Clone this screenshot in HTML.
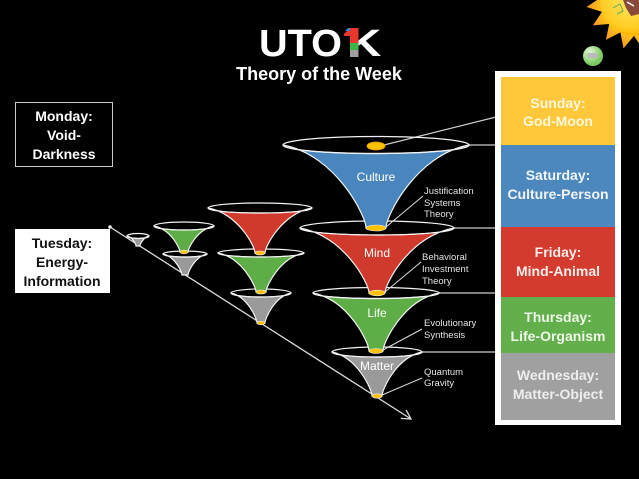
<!DOCTYPE html>
<html><head><meta charset="utf-8"><style>
html,body{margin:0;padding:0;background:#000;}
svg{display:block;}
text{font-family:"Liberation Sans",sans-serif;}
</style></head><body>
<svg width="639" height="479" viewBox="0 0 639 479" xmlns="http://www.w3.org/2000/svg">
<defs>
<radialGradient id="sunG" cx="636" cy="0" r="50" gradientUnits="userSpaceOnUse">
<stop offset="0.6" stop-color="#FFD21F"/><stop offset="1" stop-color="#F7931E"/></radialGradient>
<radialGradient id="sunB" cx="630" cy="0" r="36" gradientUnits="userSpaceOnUse">
<stop offset="0" stop-color="#FFE866"/><stop offset="0.8" stop-color="#FFCC22"/><stop offset="1" stop-color="#FFB000"/></radialGradient>
<radialGradient id="ball" cx="590" cy="52" r="12" gradientUnits="userSpaceOnUse">
<stop offset="0" stop-color="#E4F8D8"/><stop offset="1" stop-color="#7CC860"/></radialGradient>
<marker id="arr" markerWidth="12" markerHeight="12" refX="10" refY="6" orient="auto" markerUnits="userSpaceOnUse">
<path d="M1,1 L10,6 L1,11" fill="none" stroke="#ddd" stroke-width="1.3"/></marker>
</defs>
<rect width="639" height="479" fill="#000"/>

<!-- sun -->
<polygon points="600.1,-2 586.5,7 602,11.9 592.9,25.4 609.2,24 605.9,39.9 620.4,32.4 623.5,48.4 634,35.9 643,49.5 647.9,34 660,0 660,-10 600,-10" fill="url(#sunG)"/>
<circle cx="636" cy="0" r="36" fill="url(#sunB)"/>
<path d="M623,0 L639,0 L639,14 L631,16 L626,8 Z" fill="#8a4a3a"/>
<path d="M613,8 L620,4 L623,11 L617,14" fill="none" stroke="#6aa84f" stroke-width="1"/>
<path d="M627,2 L634,6" stroke="#fff" stroke-width="1.5"/>
<circle cx="593" cy="56" r="10" fill="url(#ball)"/>
<rect x="587" y="53" width="11" height="5" rx="2" fill="#bbb"/>

<!-- logo -->
<text x="259" y="56" font-size="38" font-weight="bold" fill="#fff" textLength="83" lengthAdjust="spacingAndGlyphs">UTO</text>
<text transform="translate(347,56) scale(1.25,1)" x="0" y="0" font-size="38" font-weight="bold" fill="#fff">K</text>
<rect x="350" y="28" width="8.5" height="15" fill="#E8382E"/>
<polygon points="344,34 350,28 352,28 352,36 344,36" fill="#E8382E"/>
<polygon points="345,31 348,28 350,28 350,31" fill="#3A7FD0"/>
<rect x="350" y="43" width="8.5" height="7" fill="#3DB54A"/>
<rect x="350" y="50" width="8.5" height="7" fill="#A0A0A0"/>
<text x="319" y="80" font-size="18" font-weight="bold" fill="#fff" text-anchor="middle">Theory of the Week</text>

<!-- left boxes -->
<rect x="15.5" y="102.5" width="97" height="64" fill="#000" stroke="#ccc" stroke-width="1"/>
<g font-size="14" font-weight="bold" fill="#fff" text-anchor="middle">
<text x="64" y="121">Monday:</text><text x="64" y="140">Void-</text><text x="64" y="159">Darkness</text>
</g>
<rect x="15" y="229" width="95" height="64" fill="#fff"/>
<g font-size="14" font-weight="bold" fill="#111" text-anchor="middle">
<text x="62" y="248">Tuesday:</text><text x="62" y="267">Energy-</text><text x="62" y="286">Information</text>
</g>

<!-- diagonal arrow -->
<circle cx="110" cy="227" r="1.8" fill="#eee"/>
<line x1="110" y1="227" x2="411" y2="419" stroke="#ddd" stroke-width="1.3" marker-end="url(#arr)"/>

<!-- connectors to right box -->
<g stroke="#ccc" stroke-width="1.2">
<line x1="384" y1="145" x2="496" y2="117"/>
<line x1="469" y1="145" x2="496" y2="145"/>
<line x1="454" y1="228" x2="496" y2="228"/>
<line x1="439" y1="293" x2="496" y2="293"/>
<line x1="422" y1="352" x2="496" y2="352"/>
</g>

<!-- funnels (draw lower first) -->
<g stroke="#f2f2f2" stroke-width="1.2">
<path d="M149,236 C143.2,237.2 140,244.6 140,246 L136,246 C136,244.6 132.8,237.2 127,236 A11 2.5 0 0 0 149,236 Z" fill="#9A9A9A"/>
<ellipse cx="138" cy="236" rx="11" ry="2.5" fill="none"/>
<path d="M207,254 C194.8,256.5 188,272.1 188,275 L182,275 C182,272.1 175.2,256.5 163,254 A22 3 0 0 0 207,254 Z" fill="#9A9A9A"/>
<ellipse cx="185" cy="254" rx="22" ry="3" fill="none"/>
<path d="M214,226 C197.4,229.1 188,248.4 188,252 L180,252 C180,248.4 170.6,229.1 154,226 A30 4 0 0 0 214,226 Z" fill="#5FAD47"/>
<ellipse cx="184" cy="226" rx="30" ry="4" fill="none"/>
<ellipse cx="184" cy="252" rx="4" ry="1.8" fill="#FFC000" stroke-width="0.6"/>
<path d="M291,293 C274.4,296.6 265,318.8 265,323 L257,323 C257,318.8 247.6,296.6 231,293 A30 4 0 0 0 291,293 Z" fill="#9A9A9A"/>
<ellipse cx="261" cy="293" rx="30" ry="4" fill="none"/>
<ellipse cx="261" cy="323" rx="4" ry="1.8" fill="#FFC000" stroke-width="0.6"/>
<path d="M304,253 C279.7,257.7 266,286.5 266,292 L256,292 C256,286.5 242.3,257.7 218,253 A43 4 0 0 0 304,253 Z" fill="#5FAD47"/>
<ellipse cx="261" cy="253" rx="43" ry="4" fill="none"/>
<ellipse cx="261" cy="292" rx="5" ry="2" fill="#FFC000" stroke-width="0.6"/>
<path d="M312,208 C281.9,213.4 265,246.7 265,253 L255,253 C255,246.7 238.1,213.4 208,208 A52 5 0 0 0 312,208 Z" fill="#D03A2C"/>
<ellipse cx="260" cy="208" rx="52" ry="5" fill="none"/>
<ellipse cx="260" cy="253" rx="5" ry="2" fill="#FFC000" stroke-width="0.6"/>

<path d="M422,352 C396.4,357.3 382,389.8 382,396 L372,396 C372,389.8 357.6,357.3 332,352 A45 5 0 0 0 422,352 Z" fill="#9A9A9A"/>
<ellipse cx="377" cy="352" rx="45" ry="5" fill="none"/>
<ellipse cx="377" cy="396" rx="5" ry="2.2" fill="#FFC000" stroke-width="0.6"/>
<path d="M439,293 C403.2,300 383,342.9 383,351 L369,351 C369,342.9 348.8,300 313,293 A63 5.5 0 0 0 439,293 Z" fill="#5FAD47"/>
<ellipse cx="376" cy="293" rx="63" ry="5.5" fill="none"/>
<ellipse cx="376" cy="351" rx="7" ry="2.5" fill="#FFC000" stroke-width="0.6"/>
<path d="M454,228 C409.8,235.8 385,283.9 385,293 L369,293 C369,283.9 344.2,235.8 300,228 A77 7 0 0 0 454,228 Z" fill="#D03A2C"/>
<ellipse cx="377" cy="228" rx="77" ry="7" fill="none"/>
<ellipse cx="377" cy="293" rx="8" ry="2.8" fill="#FFC000" stroke-width="0.6"/>
<path d="M469,145 C415.9,155 386,216.4 386,228 L366,228 C366,216.4 336.1,155 283,145 A93 8.5 0 0 0 469,145 Z" fill="#4A86BE"/>
<ellipse cx="376" cy="145" rx="93" ry="8.5" fill="none"/>
<ellipse cx="376" cy="228" rx="10" ry="3" fill="#FFC000" stroke-width="0.6"/>
<ellipse cx="376" cy="146" rx="9" ry="4" fill="#FFC000" stroke="#E8A000" stroke-width="0.8"/>
</g>

<!-- funnel labels -->
<g font-size="12" fill="#fff" text-anchor="middle">
<text x="376" y="181">Culture</text>
<text x="377" y="257">Mind</text>
<text x="377" y="317">Life</text>
<text x="377" y="370">Matter</text>
</g>

<!-- leader lines -->
<g stroke="#ddd" stroke-width="1">
<line x1="386" y1="227" x2="423" y2="196"/>
<line x1="385" y1="292" x2="421" y2="262"/>
<line x1="383" y1="350" x2="422" y2="329"/>
<line x1="382" y1="395" x2="422" y2="378"/>
</g>
<g font-size="9.5" fill="#e4e4e4">
<text x="424" y="194">Justification</text><text x="424" y="206">Systems</text><text x="424" y="217">Theory</text>
<text x="422" y="260">Behavioral</text><text x="422" y="272">Investment</text><text x="422" y="284">Theory</text>
<text x="424" y="326">Evolutionary</text><text x="424" y="338">Synthesis</text>
<text x="424" y="375">Quantum</text><text x="424" y="386">Gravity</text>
</g>

<!-- right box -->
<rect x="495" y="71" width="126" height="354" fill="#fff"/>
<rect x="501" y="77" width="114" height="68" fill="#FFC83A"/>
<rect x="501" y="145" width="114" height="82" fill="#4C87BE"/>
<rect x="501" y="227" width="114" height="70" fill="#D23B2E"/>
<rect x="501" y="297" width="114" height="56" fill="#63AF4C"/>
<rect x="501" y="353" width="114" height="67" fill="#A0A0A0"/>
<g font-size="14" font-weight="bold" text-anchor="middle">
<text x="558" y="108" fill="#FFF7DC">Sunday:</text><text x="558" y="126" fill="#FFF7DC">God-Moon</text>
<text x="558" y="180" fill="#F2F6FA">Saturday:</text><text x="558" y="199" fill="#F2F6FA">Culture-Person</text>
<text x="558" y="257" fill="#FCEDEB">Friday:</text><text x="558" y="276" fill="#FCEDEB">Mind-Animal</text>
<text x="558" y="322" fill="#EEF7EA">Thursday:</text><text x="558" y="341" fill="#EEF7EA">Life-Organism</text>
<text x="558" y="380" fill="#EEEEEE">Wednesday:</text><text x="558" y="399" fill="#EEEEEE">Matter-Object</text>
</g>
</svg>
</body></html>
